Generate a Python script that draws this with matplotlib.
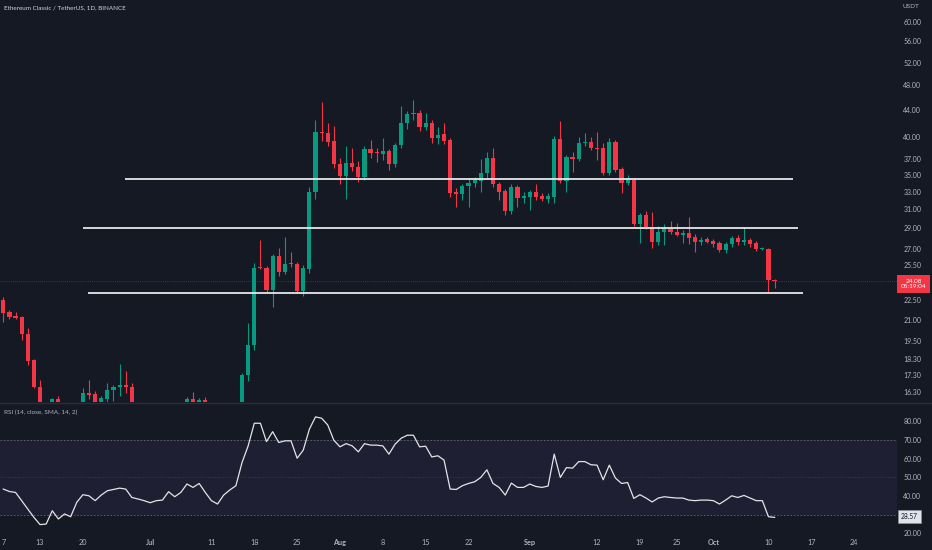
import matplotlib
matplotlib.use('Agg')
from matplotlib import pyplot as plt
from matplotlib.ticker import NullLocator, FixedLocator, FixedFormatter
import numpy as np

plt.rcParams['font.family'] = ['Lato', 'DejaVu Sans']

# ETC/USDT daily candles, day 0 = 2022-06-07
opens = [22.54, 21.61, 21.27, 21.23, 20.00, 18.25, 16.60, 15.30, 15.00, 15.91,
         15.40, 15.10, 15.30, 15.45, 16.25, 16.19, 15.50, 15.91, 16.42, 16.60,
         16.72, 16.60, 15.40, 15.20, 14.90, 15.10, 14.95, 14.70, 14.90, 15.20,
         15.30, 15.91, 15.50, 15.85, 15.50, 15.10, 14.80, 15.20, 15.40, 15.50,
         17.31, 19.24, 25.30, 25.24, 23.35, 26.32, 24.88, 25.60, 25.59, 23.27,
         25.15, 32.98, 40.74, 40.59, 39.46, 36.39, 34.89, 36.52, 36.01, 34.77,
         38.37, 37.90, 37.70, 38.10, 36.39, 38.91, 42.04, 43.40, 43.55, 41.46,
         42.04, 39.88, 40.45, 39.60, 32.98, 32.75, 33.68, 34.04, 34.28, 35.26,
         37.17, 33.92, 33.09, 30.84, 33.57, 32.29, 32.40, 32.98, 32.52, 32.17,
         32.40, 39.74, 34.28, 37.30, 37.04, 39.18, 39.32, 38.50, 38.50, 35.26,
         39.32, 35.75, 34.04, 34.40, 29.46, 30.41, 29.15, 27.65, 28.64, 28.95,
         28.64, 28.34, 28.54, 28.15, 27.65, 27.95, 27.75, 27.55, 26.89, 27.46,
         28.05, 27.65, 27.85, 27.55, 26.98, 26.98, 24.19]
highs = [22.80, 21.75, 21.60, 21.30, 20.40, 18.30, 17.01, 15.55, 15.95, 16.07,
         15.60, 15.50, 15.60, 16.55, 17.01, 16.35, 16.05, 16.84, 16.70, 17.99,
         17.55, 16.85, 15.60, 15.50, 15.30, 15.40, 15.20, 15.10, 15.40, 15.60,
         16.00, 16.31, 15.95, 16.00, 15.65, 15.40, 15.30, 15.60, 15.65, 17.45,
         20.80, 25.68, 27.85, 25.40, 26.50, 27.07, 28.15, 26.70, 25.80, 25.50,
         33.50, 42.49, 45.27, 42.04, 41.60, 37.20, 38.77, 38.50, 36.80, 38.70,
         39.60, 38.50, 39.88, 38.40, 39.20, 44.64, 43.80, 45.59, 44.00, 43.55,
         42.40, 41.50, 42.04, 39.90, 33.45, 33.90, 34.64, 34.77, 37.04, 37.96,
         38.50, 34.20, 33.30, 33.90, 33.80, 32.98, 33.20, 33.92, 32.80, 32.80,
         40.10, 42.34, 37.50, 37.96, 40.00, 40.59, 40.00, 40.74, 39.18, 39.88,
         39.60, 36.00, 35.00, 34.60, 30.60, 30.84, 30.70, 29.25, 29.46, 29.78,
         29.57, 28.80, 30.20, 28.40, 28.15, 28.10, 27.95, 27.70, 27.60, 28.20,
         28.30, 29.15, 28.00, 27.70, 27.20, 27.10, 24.30]
lows = [20.86, 21.10, 21.05, 19.60, 17.95, 16.55, 15.00, 14.60, 14.90, 15.20,
        14.80, 14.50, 15.00, 15.30, 15.90, 15.30, 15.30, 15.70, 15.80, 16.10,
        16.25, 15.30, 15.00, 14.70, 14.60, 14.80, 14.50, 14.40, 14.70, 15.00,
        15.10, 15.30, 15.20, 15.30, 14.90, 14.60, 14.50, 14.90, 15.10, 15.30,
        16.95, 18.90, 25.10, 23.20, 22.00, 24.50, 24.70, 25.30, 23.10, 22.85,
        24.80, 32.17, 39.50, 38.80, 35.90, 33.92, 32.17, 35.50, 34.16, 34.40,
        37.17, 36.60, 36.90, 35.63, 36.00, 38.50, 41.20, 42.50, 40.90, 41.00,
        39.20, 39.00, 39.00, 32.40, 31.28, 32.06, 31.28, 33.50, 32.98, 34.60,
        33.60, 32.06, 30.41, 30.50, 31.28, 31.72, 30.95, 32.10, 31.90, 31.72,
        31.72, 34.00, 32.98, 35.40, 36.80, 38.80, 38.20, 36.90, 35.00, 35.00,
        35.40, 32.86, 33.80, 29.25, 27.55, 28.90, 27.07, 27.40, 27.40, 28.40,
        28.20, 27.55, 27.46, 26.70, 27.40, 27.50, 27.20, 26.70, 26.60, 27.20,
        27.40, 27.40, 27.20, 26.80, 26.85, 23.10, 23.52]
closes = [21.53, 21.23, 21.15, 20.00, 18.19, 16.60, 15.30, 15.00, 15.91, 15.40,
          15.10, 15.30, 15.45, 16.25, 16.13, 15.50, 15.97, 16.42, 16.60, 16.72,
          16.60, 15.40, 15.20, 14.90, 15.10, 14.95, 14.70, 14.90, 15.20, 15.30,
          15.91, 15.50, 15.85, 15.50, 15.10, 14.80, 15.20, 15.40, 15.50, 17.31,
          19.24, 25.24, 25.25, 23.35, 26.32, 24.88, 25.59, 25.55, 23.27, 25.24,
          32.98, 40.74, 40.59, 39.32, 36.39, 34.89, 36.52, 36.01, 34.77, 38.37,
          37.83, 37.85, 38.10, 36.39, 38.91, 42.04, 43.40, 43.55, 41.46, 42.04,
          39.88, 40.31, 39.46, 32.86, 32.75, 33.68, 34.04, 34.40, 35.26, 37.17,
          33.92, 32.98, 30.84, 33.57, 32.29, 32.52, 32.98, 32.40, 32.17, 32.52,
          39.74, 34.28, 37.30, 37.04, 39.18, 39.32, 38.50, 38.37, 35.26, 39.32,
          35.63, 34.04, 34.64, 29.46, 30.41, 29.15, 27.65, 28.64, 28.95, 28.64,
          28.34, 28.54, 28.05, 27.65, 27.85, 27.65, 27.46, 26.89, 27.46, 28.05,
          27.65, 27.85, 27.46, 26.98, 27.07, 24.19, 24.08]

rsi = [43.7, 42.4, 41.9, 37.5, 33.0, 28.6, 24.7, 25.0, 32.1, 27.7,
       30.4, 28.9, 36.6, 40.7, 40.1, 37.5, 40.5, 42.8, 43.5, 44.2,
       43.7, 39.2, 38.4, 37.5, 36.4, 37.5, 37.8, 42.3, 39.6, 41.9,
       46.4, 44.6, 46.7, 41.9, 37.5, 35.7, 40.5, 43.2, 45.5, 57.9,
       66.8, 78.9, 78.9, 69.1, 74.4, 68.6, 69.5, 69.5, 60.2, 64.5,
       75.7, 82.3, 81.6, 78.0, 69.8, 66.3, 68.0, 66.8, 63.6, 68.0,
       67.2, 67.2, 66.8, 62.4, 67.7, 70.9, 72.5, 72.5, 66.3, 66.6,
       60.9, 61.5, 59.2, 43.7, 43.5, 45.5, 46.7, 47.6, 49.9, 54.0,
       46.7, 44.6, 40.5, 46.9, 44.6, 44.6, 46.4, 45.1, 44.6, 45.3,
       62.4, 49.9, 55.2, 54.9, 58.4, 58.4, 56.7, 56.5, 48.7, 56.5,
       49.6, 46.7, 47.2, 38.7, 40.7, 38.9, 36.8, 38.9, 39.6, 39.2,
       38.9, 38.9, 37.8, 37.5, 37.8, 37.8, 37.5, 35.7, 37.8, 40.1,
       39.2, 40.3, 38.9, 37.5, 37.5, 28.9, 28.57]

# drawn horizontal levels: price, first day, last day
levels = [34.52, 29.05, 23.10]
level_start = [19.9, 13.0, 13.8]
level_end = [129.0, 129.9, 130.7]

price_ticks = [16.30, 17.30, 18.30, 19.50, 21.00, 22.50, 25.50, 27.00, 29.00, 31.00,
               33.00, 35.00, 37.00, 40.00, 44.00, 48.00, 52.00, 56.00, 60.00]
rsi_ticks = [20, 40, 50, 60, 70, 80]
date_pos = [0, 6, 13, 24, 34, 41, 48, 55, 62, 69, 76, 86, 97, 104, 110, 116, 125, 132, 139]
date_lbl = ['7', '13', '20', 'Jul', '11', '18', '25', 'Aug', '8', '15', '22',
            'Sep', '12', '19', '25', 'Oct', '10', '17', '24']

BG = '#151924'
UP = '#089981'
DN = '#f23645'
TXT = '#b2b5be'

W, H = 932, 550
fig = plt.figure(figsize=(W / 100, H / 100), dpi=100, facecolor=BG)
ax = fig.add_axes([0, 1 - 402 / H, 897 / W, 402 / H], facecolor=BG)
ax2 = fig.add_axes([0, 1 - 536 / H, 897 / W, 132 / H], facecolor=BG)

o = np.array(opens); c = np.array(closes)
hi = np.array(highs); lo = np.array(lows)
x = np.arange(len(o))
col = np.where(c >= o, UP, DN)
bot = np.minimum(o, c)
hgt = np.maximum(np.abs(c - o), bot * 0.004)

ax.vlines(x, lo, hi, colors=col, lw=0.8)
ax.bar(x, hgt, bottom=bot, width=0.68, color=col, linewidth=0)
ax.hlines(levels, level_start, level_end, colors='#e6e7ea', lw=1.3)
ax.axhline(closes[-1], color=DN, lw=0.6, ls=(0, (1, 1.5)), alpha=0.55)

ax.set_yscale('log')
ax.set_ylim(15.74, 64.8)
ax.set_xlim(-0.54, 146.0)
ax.yaxis.set_minor_locator(NullLocator())
ax.yaxis.set_major_locator(FixedLocator(price_ticks))
ax.yaxis.set_major_formatter(FixedFormatter(['%.2f' % v for v in price_ticks]))
ax.yaxis.tick_right()
ax.tick_params(axis='y', length=0, pad=4.5, labelsize=5, labelcolor=TXT)
ax.set_xticks([])
for s in ax.spines.values():
    s.set_visible(False)

# RSI pane
ax2.axhspan(30, 70, color='#7e57c2', alpha=0.1, lw=0)
for lv, st, a in [(70, (0, (2, 2)), 0.8), (30, (0, (2, 2)), 0.8), (50, (0, (1, 2)), 0.4)]:
    ax2.axhline(lv, color='#787b86', lw=0.6, ls=st, alpha=a)
ax2.plot(x, rsi, color='#e4e4e6', lw=0.9)
ax2.set_xlim(-0.54, 146.0)
ax2.set_ylim(18.6, 89.2)
ax2.set_yticks(rsi_ticks)
ax2.set_yticklabels(['%.2f' % v for v in rsi_ticks])
ax2.yaxis.tick_right()
ax2.tick_params(axis='y', length=0, pad=4.5, labelsize=5, labelcolor=TXT)
ax2.set_xticks(date_pos)
ax2.set_xticklabels(date_lbl)
ax2.tick_params(axis='x', length=0, pad=2.5, labelsize=5.2, labelcolor=TXT)
for t in ax2.get_xticklabels():
    if t.get_text() in ('Jul', 'Aug', 'Sep', 'Oct'):
        t.set_fontweight('bold')
for s in ax2.spines.values():
    s.set_visible(False)

# pane separator
fig.add_artist(plt.Line2D([0, 1], [1 - 403 / H] * 2, color='#2a2e39', lw=1))

fig.text(4 / W, 1 - 8 / H, 'Ethereum Classic / TetherUS, 1D, BINANCE',
         color='#d1d4dc', fontsize=4.5, va='center', ha='left')
fig.text(4 / W, 1 - 412 / H, 'RSI (14, close, SMA, 14, 2)',
         color='#b2b5be', fontsize=4.6, va='center', ha='left')
fig.text(911 / W, 1 - 7 / H, 'USDT', color=TXT, fontsize=4.6,
         va='center', ha='center')

# last value labels on the axes
fig.text(913.5 / W, 1 - 284 / H, '%.2f\n05:19:04' % closes[-1], color='white',
         fontsize=4.6, va='center', ha='center', linespacing=1.15,
         bbox=dict(boxstyle='square,pad=0.55', fc=DN, ec='none'))
fig.text(909.5 / W, 1 - 516.5 / H, '%.2f' % rsi[-1], color='#131722',
         fontsize=4.8, va='center', ha='center',
         bbox=dict(boxstyle='square,pad=0.45', fc='#e0e3eb', ec='#9598a1', lw=0.4))

plt.savefig('out.png', dpi=100, facecolor=BG)
